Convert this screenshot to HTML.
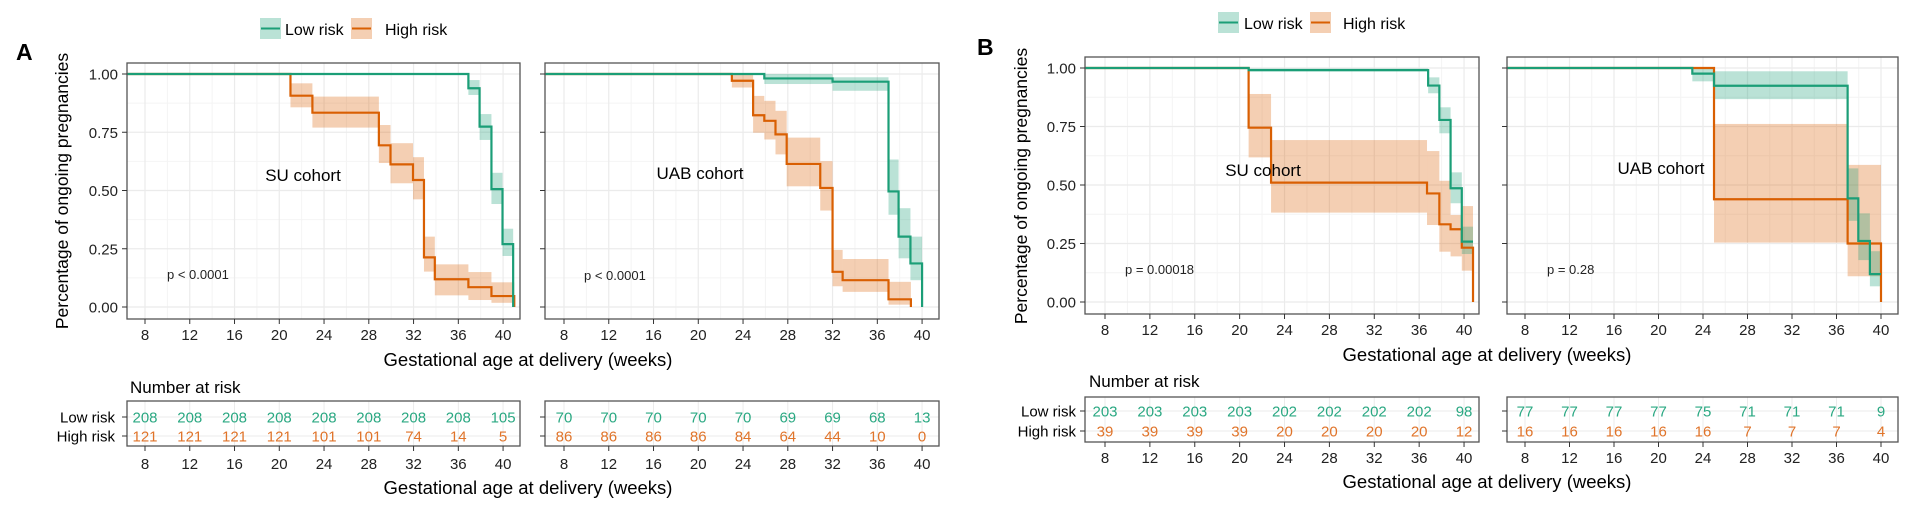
<!DOCTYPE html>
<html><head><meta charset="utf-8">
<style>
html,body{margin:0;padding:0;background:#fff;}
svg{display:block;font-family:"Liberation Sans",Arial,sans-serif;}
</style></head>
<body>
<svg id="fig" width="1926" height="507" viewBox="0 0 1926 507" xmlns="http://www.w3.org/2000/svg">
  <text x="16" y="60" font-size="23" font-weight="bold">A</text>
  <text x="977" y="55" font-size="23" font-weight="bold">B</text>
  <g>
    <rect x="260" y="18" width="21" height="21" fill="#1b9e77" fill-opacity="0.3"/>
    <line x1="261" y1="28.5" x2="280" y2="28.5" stroke="#1b9e77" stroke-width="2"/>
    <text x="285" y="35" font-size="16">Low risk</text>
    <rect x="351" y="18" width="21" height="21" fill="#d95f02" fill-opacity="0.3"/>
    <line x1="352" y1="28.5" x2="371" y2="28.5" stroke="#d95f02" stroke-width="2"/>
    <text x="385" y="35" font-size="16">High risk</text>
  </g>
  <g>
    <rect x="1218" y="12" width="21" height="21" fill="#1b9e77" fill-opacity="0.3"/>
    <line x1="1219" y1="22.5" x2="1238" y2="22.5" stroke="#1b9e77" stroke-width="2"/>
    <text x="1244" y="29" font-size="16">Low risk</text>
    <rect x="1310" y="12" width="21" height="21" fill="#d95f02" fill-opacity="0.3"/>
    <line x1="1311" y1="22.5" x2="1330" y2="22.5" stroke="#d95f02" stroke-width="2"/>
    <text x="1343" y="29" font-size="16">High risk</text>
  </g>
  <text transform="translate(68,191) rotate(-90)" text-anchor="middle" font-size="17.5">Percentage of ongoing pregnancies</text>
  <text transform="translate(1027,186) rotate(-90)" text-anchor="middle" font-size="17.5">Percentage of ongoing pregnancies</text>
  <text x="528" y="366" text-anchor="middle" font-size="18.5">Gestational age at delivery (weeks)</text>
  <text x="1487" y="361" text-anchor="middle" font-size="18.5">Gestational age at delivery (weeks)</text>
  <text x="130" y="393" font-size="17">Number at risk</text>
  <text x="1089" y="387" font-size="17">Number at risk</text>
  <text x="528" y="494" text-anchor="middle" font-size="18.5">Gestational age at delivery (weeks)</text>
  <text x="1487" y="488" text-anchor="middle" font-size="18.5">Gestational age at delivery (weeks)</text>
</svg>
<script>
// ---- data ----
const xTicks = [8,12,16,20,24,28,32,36,40];
const yTicks = [0,0.25,0.5,0.75,1];
const yTickLabels = ["0.00","0.25","0.50","0.75","1.00"];

// Panel A – SU cohort
const aSuLowT  = [36.9,37.9,38.96,39.95,40.9];
const aSuLowS  = [0.939,0.774,0.506,0.270,0];
const aSuLowLo = [0.910,0.717,0.442,0.219,0];
const aSuLowHi = [0.974,0.828,0.576,0.336,0];
const aSuHighT  = [21,22.96,28.9,29.94,31.95,32.93,33.9,36.9,38.96,41];
const aSuHighS  = [0.907,0.834,0.694,0.612,0.545,0.213,0.119,0.085,0.047,0];
const aSuHighLo = [0.857,0.77,0.618,0.531,0.462,0.152,0.05,0.03,0.018,0];
const aSuHighHi = [0.96,0.903,0.781,0.703,0.643,0.302,0.183,0.15,0.106,0];
// Panel A – UAB cohort
const aUabLowT  = [25.9,32,37,37.9,38.96,40];
const aUabLowS  = [0.981,0.967,0.496,0.302,0.187,0];
const aUabLowLo = [0.957,0.928,0.396,0.209,0.115,0];
const aUabLowHi = [1.0,0.986,0.633,0.424,0.302,0];
const aUabHighT  = [23,24.9,25.9,26.9,27.9,30.9,32,32.9,37,39];
const aUabHighS  = [0.971,0.823,0.799,0.741,0.614,0.511,0.151,0.115,0.033,0];
const aUabHighLo = [0.942,0.748,0.719,0.655,0.518,0.414,0.089,0.065,0.01,0];
const aUabHighHi = [1,0.906,0.885,0.842,0.727,0.626,0.245,0.206,0.108,0];
// Panel B – SU cohort
const bSuLowT  = [20.8,36.8,37.8,38.8,39.8,40.8];
const bSuLowS  = [0.991,0.925,0.778,0.486,0.258,0.258];
const bSuLowLo = [0.985,0.892,0.721,0.422,0.205,0.205];
const bSuLowHi = [0.998,0.96,0.832,0.554,0.322,0.322];
const bSuHighT  = [20.8,22.8,36.7,37.8,38.8,39.8,40.8];
const bSuHighS  = [0.745,0.51,0.464,0.332,0.311,0.232,0];
const bSuHighLo = [0.618,0.382,0.329,0.215,0.195,0.134,0];
const bSuHighHi = [0.889,0.692,0.645,0.518,0.372,0.41,0];
// Panel B – UAB cohort
const bUabLowT  = [23.04,24.99,37,37.96,39,40];
const bUabLowS  = [0.976,0.924,0.443,0.261,0.119,0.119];
const bUabLowLo = [0.943,0.867,0.347,0.179,0.067,0.067];
const bUabLowHi = [1,0.986,0.571,0.379,0.217,0.217];
const bUabHighT  = [24.99,37,40];
const bUabHighS  = [0.439,0.25,0];
const bUabHighLo = [0.254,0.11,0];
const bUabHighHi = [0.761,0.586,0];

// Numbers at risk
const aSuRiskLow  = [208,208,208,208,208,208,208,208,105];
const aSuRiskHigh = [121,121,121,121,101,101,74,14,5];
const aUabRiskLow  = [70,70,70,70,70,69,69,68,13];
const aUabRiskHigh = [86,86,86,86,84,64,44,10,0];
const bSuRiskLow  = [203,203,203,203,202,202,202,202,98];
const bSuRiskHigh = [39,39,39,39,20,20,20,20,12];
const bUabRiskLow  = [77,77,77,77,75,71,71,71,9];
const bUabRiskHigh = [16,16,16,16,16,7,7,7,4];

const pValues = ["p < 0.0001","p < 0.0001","p = 0.00018","p = 0.28"];
const cohortNames = ["SU cohort","UAB cohort","SU cohort","UAB cohort"];

// ---- layout ----
const NS = "http://www.w3.org/2000/svg";
const svg = document.getElementById('fig');
const GREEN = "#1b9e77", ORANGE = "#d95f02";
function mk(tag, attrs, parent){
  const e = document.createElementNS(NS, tag);
  for (const k in attrs) e.setAttribute(k, attrs[k]);
  (parent||svg).appendChild(e);
  return e;
}

const panels = [
  {id:'a-su', L:127,R:520,T:63,B:319, x8:145, ppw:11.19, y1:74, y0:307, tableT:401, tableB:446, rowLow:417, rowHigh:436, tickY:340, tTickY:469, labels:true, labX:115,
   low:[aSuLowT,aSuLowS,aSuLowLo,aSuLowHi], high:[aSuHighT,aSuHighS,aSuHighLo,aSuHighHi], riskLow:aSuRiskLow, riskHigh:aSuRiskHigh,
   pText:0, pX:167, pY:279, cX:303, cY:181},
  {id:'a-uab', L:545,R:939,T:63,B:319, x8:564, ppw:11.19, y1:74, y0:307, tableT:401, tableB:446, rowLow:417, rowHigh:436, tickY:340, tTickY:469, labels:false,
   low:[aUabLowT,aUabLowS,aUabLowLo,aUabLowHi], high:[aUabHighT,aUabHighS,aUabHighLo,aUabHighHi], riskLow:aUabRiskLow, riskHigh:aUabRiskHigh,
   pText:1, pX:584, pY:280, cX:700, cY:179},
  {id:'b-su', L:1085,R:1479,T:57,B:314, x8:1105, ppw:11.22, y1:68, y0:302, tableT:397, tableB:442, rowLow:411, rowHigh:431, tickY:335, tTickY:463, labels:true, labX:1076,
   low:[bSuLowT,bSuLowS,bSuLowLo,bSuLowHi], high:[bSuHighT,bSuHighS,bSuHighLo,bSuHighHi], riskLow:bSuRiskLow, riskHigh:bSuRiskHigh,
   pText:2, pX:1125, pY:274, cX:1263, cY:176},
  {id:'b-uab', L:1507,R:1898,T:57,B:314, x8:1525, ppw:11.125, y1:68, y0:302, tableT:397, tableB:442, rowLow:411, rowHigh:431, tickY:335, tTickY:463, labels:false,
   low:[bUabLowT,bUabLowS,bUabLowLo,bUabLowHi], high:[bUabHighT,bUabHighS,bUabHighLo,bUabHighHi], riskLow:bUabRiskLow, riskHigh:bUabRiskHigh,
   pText:3, pX:1547, pY:274, cX:1661, cY:174},
];

panels.forEach(p => {
  const xs = w => p.x8 + (w - 8) * p.ppw;
  const ys = v => p.y0 - v * (p.y0 - p.y1);
  const xMin = 8 - (p.x8 - p.L) / p.ppw;

  const g = mk('g', {});
  
  

  for (let w = 6; w <= 42; w += 4) {
    const x = xs(w); if (x <= p.L || x >= p.R) continue;
    mk('line',{x1:x,y1:p.T,x2:x,y2:p.B,stroke:'#f4f4f4','stroke-width':1},g);
  }
  for (let v = -0.125; v <= 1.2; v += 0.25) {
    const y = ys(v); if (y <= p.T || y >= p.B) continue;
    mk('line',{x1:p.L,y1:y,x2:p.R,y2:y,stroke:'#f4f4f4','stroke-width':1},g);
  }
  xTicks.forEach(w => mk('line',{x1:xs(w),y1:p.T,x2:xs(w),y2:p.B,stroke:'#ebebeb','stroke-width':1.2},g));
  yTicks.forEach(v => mk('line',{x1:p.L,y1:ys(v),x2:p.R,y2:ys(v),stroke:'#ebebeb','stroke-width':1.2},g));

  [[p.high, ORANGE, 'high-risk'], [p.low, GREEN, 'low-risk']].forEach(([c, col, nm]) => {
    const [T, S, LO, HI] = c;
    for (let i = 0; i < T.length; i++) {
      const t2 = i + 1 < T.length ? T[i+1] : T[i];
      const r = mk('rect',{x:xs(T[i]),y:ys(HI[i]),width:Math.max(0,xs(t2)-xs(T[i])),height:Math.max(0,ys(LO[i])-ys(HI[i])),fill:col,'fill-opacity':0.3},g);
      
      
    }
  });
  [[p.high, ORANGE, 'high-risk'], [p.low, GREEN, 'low-risk']].forEach(([c, col, nm]) => {
    const [T, S] = c;
    let d = 'M' + xs(xMin) + ',' + ys(1);
    let prev = 1;
    for (let i = 0; i < T.length; i++) {
      d += ' L' + xs(T[i]) + ',' + ys(prev) + ' L' + xs(T[i]) + ',' + ys(S[i]);
      prev = S[i];
    }
    const path = mk('path',{d:d,fill:'none',stroke:col,'stroke-width':2.2},g);
    
    
  });

  mk('rect',{x:p.L,y:p.T,width:p.R-p.L,height:p.B-p.T,fill:'none',stroke:'#555','stroke-width':1.3},g);
  yTicks.forEach((v,i) => {
    mk('line',{x1:p.L-5,y1:ys(v),x2:p.L,y2:ys(v),stroke:'#333','stroke-width':1},g);
    if (p.labels) {
      const t = mk('text',{x:p.L-9,y:ys(v)+5.5,'text-anchor':'end','font-size':15,fill:'#222'},g);
      t.textContent = yTickLabels[i];
      
      
    }
  });
  xTicks.forEach(w => {
    mk('line',{x1:xs(w),y1:p.B,x2:xs(w),y2:p.B+5,stroke:'#333','stroke-width':1},g);
    const t = mk('text',{x:xs(w),y:p.tickY,'text-anchor':'middle','font-size':15,fill:'#222'},g);
    t.textContent = w;
    
    
  });
  const ct = mk('text',{x:p.cX,y:p.cY,'text-anchor':'middle','font-size':17,fill:'#000'},g);
  ct.textContent = cohortNames[p.pText];
  
  
  const pt = mk('text',{x:p.pX,y:p.pY,'font-size':13,fill:'#222'},g);
  pt.textContent = pValues[p.pText];
  
  

  const tg = mk('g', {});
  
  
  xTicks.forEach(w => mk('line',{x1:xs(w),y1:p.tableT,x2:xs(w),y2:p.tableB,stroke:'#ebebeb','stroke-width':1},tg));
  [p.rowLow, p.rowHigh].forEach(y => mk('line',{x1:p.L,y1:y,x2:p.R,y2:y,stroke:'#ebebeb','stroke-width':1},tg));
  mk('rect',{x:p.L,y:p.tableT,width:p.R-p.L,height:p.tableB-p.tableT,fill:'none',stroke:'#555','stroke-width':1.3},tg);
  [[p.rowLow,'Low risk',p.riskLow,'#2aa882'],[p.rowHigh,'High risk',p.riskHigh,'#e0742a']].forEach(([y,lab,vals,col]) => {
    mk('line',{x1:p.L-5,y1:y,x2:p.L,y2:y,stroke:'#333','stroke-width':1},tg);
    if (p.labels) {
      const t = mk('text',{x:p.labX,y:y+5.5,'text-anchor':'end','font-size':15,fill:'#000'},tg);
      t.textContent = lab;
      
      
    }
    vals.forEach((v,i) => {
      const t = mk('text',{x:xs(xTicks[i]),y:y+5.5,'text-anchor':'middle','font-size':15,fill:col},tg);
      t.textContent = v;
      
      
    });
  });
  xTicks.forEach(w => {
    mk('line',{x1:xs(w),y1:p.tableB,x2:xs(w),y2:p.tableB+5,stroke:'#333','stroke-width':1},tg);
    const t = mk('text',{x:xs(w),y:p.tTickY,'text-anchor':'middle','font-size':15,fill:'#222'},tg);
    t.textContent = w;
    
    
  });
});
</script>
</body></html>
